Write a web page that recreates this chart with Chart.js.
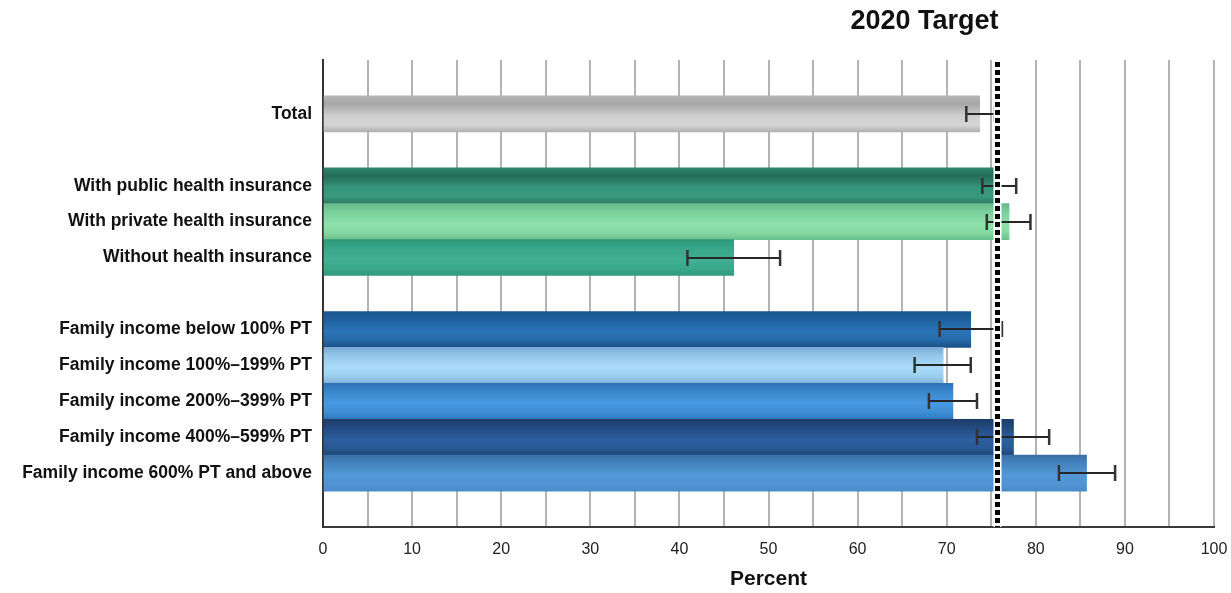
<!DOCTYPE html>
<html>
<head>
<meta charset="utf-8">
<script src="https://cdn.jsdelivr.net/npm/chart.js@4.4.1/dist/chart.umd.min.js"></script>
<style>
  html, body { margin: 0; padding: 0; background: #ffffff; }
  #wrap { width: 1231px; height: 593px; }
</style>
</head>
<body>
<div id="wrap"><canvas id="chart" width="1231" height="593"></canvas></div>
<script>
// Rows top to bottom; empty rows separate the groups.
const categories = [
  '',
  'Total',
  '',
  'With public health insurance',
  'With private health insurance',
  'Without health insurance',
  '',
  'Family income below 100% PT',
  'Family income 100%\u2013199% PT',
  'Family income 200%\u2013399% PT',
  'Family income 400%\u2013599% PT',
  'Family income 600% PT and above',
  ''
];
const percents = [null, 73.7, null, 75.6, 77.0, 46.1, null, 72.7, 69.6, 70.7, 77.5, 85.7, null];
const ciLower  = [null, 72.2, null, 74.0, 74.5, 40.9, null, 69.2, 66.4, 68.0, 73.4, 82.6, null];
const ciUpper  = [null, 75.4, null, 77.8, 79.4, 51.3, null, 76.2, 72.7, 73.4, 81.5, 88.9, null];
const target2020 = 75.6;
const targetLabel = '2020 Target';
const xTickLabels = ['0', '10', '20', '30', '40', '50', '60', '70', '80', '90', '100'];
const axisTitle = 'Percent';

// Cylinder-like shading for each row, top edge to bottom edge.
const shadeStops = [0, 0.22, 0.55, 0.8, 1];
const shades = {
  1:  ['#b4b4b4', '#a6a6a6', '#cdcdcd', '#d6d6d6', '#b0b0b0'],
  3:  ['#2e876a', '#236c55', '#35957a', '#39997d', '#2a7a60'],
  4:  ['#66b98b', '#78cf9a', '#8fe0aa', '#86d9a4', '#6cc08d'],
  5:  ['#2e9a7c', '#36a486', '#41af91', '#3aa98a', '#2f9a7c'],
  7:  ['#1b568e', '#1e5f9c', '#2c74b8', '#2669a8', '#195088'],
  8:  ['#77abd4', '#94c6ea', '#aadcf8', '#9ccfee', '#7eb2da'],
  9:  ['#2c72b4', '#3886cc', '#4699e0', '#3d8ed6', '#2f78bc'],
  10: ['#1c3d6b', '#22497e', '#2b5f9e', '#2a5a96', '#1f4575'],
  11: ['#3a70a5', '#4583be', '#5298d6', '#4f95d4', '#4a8cca']
};

function barFill(ctx) {
  const chart = ctx.chart;
  const i = ctx.dataIndex;
  const cols = shades[i];
  const y = chart.scales.y;
  if (!cols) return '#999999';
  if (!y || !isFinite(y.top) || !isFinite(y.bottom) || y.bottom <= y.top) return cols[2];
  const band = (y.bottom - y.top) / categories.length;
  const yc = y.getPixelForValue(i);
  const g = chart.ctx.createLinearGradient(0, yc - band / 2, 0, yc + band / 2);
  cols.forEach((c, k) => g.addColorStop(shadeStops[k], c));
  return g;
}

const overlay = {
  id: 'overlay',
  afterDatasetsDraw(chart) {
    const { ctx, chartArea: a, scales: { x, y } } = chart;
    ctx.save();
    // confidence interval whiskers
    ciLower.forEach((lo, i) => {
      const hi = ciUpper[i];
      if (lo == null || hi == null) return;
      const yc = Math.round(y.getPixelForValue(i));
      const x1 = x.getPixelForValue(lo);
      const x2 = x.getPixelForValue(hi);
      ctx.strokeStyle = '#262626';
      ctx.lineWidth = 2;
      ctx.beginPath();
      ctx.moveTo(x1, yc);
      ctx.lineTo(x2, yc);
      ctx.stroke();
      ctx.lineWidth = 2.5;
      ctx.strokeStyle = '#333333';
      ctx.beginPath();
      ctx.moveTo(x1, yc - 8); ctx.lineTo(x1, yc + 8);
      ctx.moveTo(x2, yc - 8); ctx.lineTo(x2, yc + 8);
      ctx.stroke();
    });
    // target reference line
    const tx = Math.round(x.getPixelForValue(target2020)) + 0.5;
    ctx.setLineDash([]);
    ctx.strokeStyle = '#ffffff';
    ctx.lineWidth = 8;
    ctx.beginPath();
    ctx.moveTo(tx, a.top + 2);
    ctx.lineTo(tx, a.bottom);
    ctx.stroke();
    ctx.setLineDash([5, 3]);
    ctx.strokeStyle = '#000000';
    ctx.lineWidth = 5;
    ctx.beginPath();
    ctx.moveTo(tx, a.top + 2);
    ctx.lineTo(tx, a.bottom);
    ctx.stroke();
    ctx.restore();
  },
  afterDraw(chart) {
    const { ctx, scales: { x } } = chart;
    ctx.save();
    ctx.font = 'bold 27px "Liberation Sans", Arial, sans-serif';
    ctx.fillStyle = '#111111';
    ctx.textAlign = 'right';
    ctx.textBaseline = 'middle';
    ctx.fillText(targetLabel, x.getPixelForValue(target2020) + 2, 22);
    ctx.restore();
  }
};

new Chart(document.getElementById('chart'), {
  type: 'bar',
  data: {
    labels: categories,
    datasets: [{
      data: percents,
      backgroundColor: barFill,
      borderWidth: 0,
      barPercentage: 1.0,
      categoryPercentage: 1.0
    }]
  },
  options: {
    indexAxis: 'y',
    responsive: false,
    animation: false,
    devicePixelRatio: 1,
    layout: { padding: { top: 60, right: 17, bottom: 0, left: 0 } },
    plugins: {
      legend: { display: false },
      tooltip: { enabled: false },
      title: { display: false }
    },
    scales: {
      x: {
        min: 0,
        max: 100,
        ticks: {
          stepSize: 5,
          autoSkip: false,
          maxRotation: 0,
          padding: 13,
          color: '#222222',
          font: { family: '"Liberation Sans", Arial, sans-serif', size: 16 },
          callback: (v) => (v % 10 === 0 ? xTickLabels[v / 10] : '')
        },
        grid: { color: '#b3b3b3', lineWidth: 2, drawTicks: false },
        border: { display: true, color: '#3a3a3a', width: 2 },
        title: {
          display: true,
          text: axisTitle,
          color: '#111111',
          font: { family: '"Liberation Sans", Arial, sans-serif', size: 21, weight: 'bold' },
          padding: { top: 0, bottom: 1 }
        },
        afterFit(scale) {
          scale.height = 66;
          scale.paddingLeft = 0;
          scale.paddingRight = 0;
        }
      },
      y: {
        ticks: {
          autoSkip: false,
          padding: 11,
          color: '#111111',
          font: { family: '"Liberation Sans", Arial, sans-serif', size: 17.5, weight: 'bold' }
        },
        grid: { display: false, drawTicks: false },
        border: { display: true, color: '#333333', width: 2 },
        afterFit(scale) { scale.width = 323; }
      }
    }
  },
  plugins: [overlay]
});
</script>
</body>
</html>
